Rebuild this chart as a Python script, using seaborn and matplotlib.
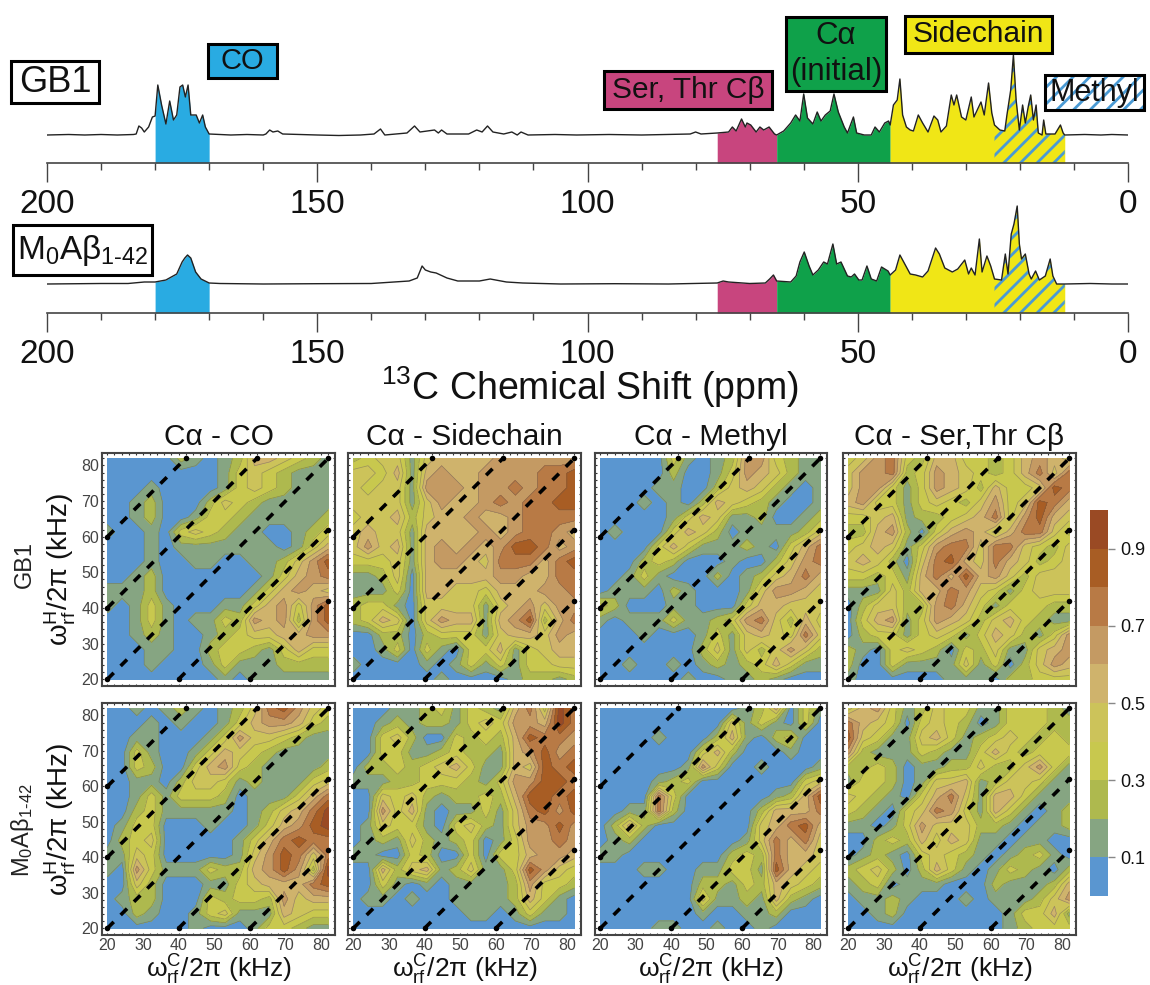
import numpy as np
import matplotlib
matplotlib.use('Agg')
import matplotlib.pyplot as plt
from matplotlib.colors import ListedColormap
from matplotlib.patches import Rectangle
import seaborn as sns

# 1D spectra as (ppm, height above baseline)
GB1_PEAKS = [(200,0),(196,.5),(193,0),(190,.5),(187,0),(184,.5),(183.5,1),(183,9),(182.5,7),(182,3),(181.2,8),(180.5,18),
    (180,19),(179.5,50),(178.8,30),(178,11),(177.3,34),(176.6,15),(176,20),(175.4,48),(174.9,50),(174.4,38),(173.9,50),
    (173.4,20),(172.4,20),(171.8,12),(171.2,20),(170.7,8),(170,1),(166,0),(163,.5),(160,0),(159.5,1),(158.8,5),(158.2,3),
    (157.3,4),(156.4,1),(150,0),(146,-.5),(142,0),(139.5,1),(138.3,6),(137.5,0),(133.4,2),(132,9),(131,3),(128.3,5),
    (127.6,2),(127,5),(126,1),(122,1),(120.5,5),(119.5,3),(118.5,9),(117.5,3),(115.5,1),(114,3),(113,0),(112.3,3),(111,0),
    (106,.5),(102,0),(96,.5),(90,0),(85,.5),(81,1),(80,3),(79,1),(76,2),(73.9,3),(73.2,8),(72.5,4),(71.5,16),(70.8,8),
    (70.5,12),(69.8,10),(68.8,3),(68.1,8),(67.4,5),(66.4,8),(65.4,1),(65,0),(63.7,4),(62.4,12),(61.5,20),(60.7,14),(60,41),
    (59.3,17),(58.3,11),(57.5,23),(56.8,14),(56,20),(55.1,24),(54.4,41),(53.6,23),(52.5,8),(51.9,2),(50.8,18),(50.2,2),
    (48.8,0),(47.5,0),(46.8,8),(46,3),(45,12),(44.3,14),(44,10),(43.4,30),(42.7,35),(42.2,56),(41.7,20),(41,8),(40.3,5),
    (39.7,4),(38.8,20),(38,12),(37,3),(35.9,19),(35.2,15),(34.6,3),(33.6,9),(32.7,40),(32.2,30),(31.7,40),(30.8,18),(30,15),
    (29,38),(28.5,18),(27.2,33),(26.6,20),(25.8,52),(25.2,22),(24.7,10),(23.7,5),(22.8,4),(22.4,20),(21.7,45),(21.2,80),
    (20.7,35),(20.1,5),(19.5,30),(19,12),(18.4,30),(18,40),(17.5,15),(17,30),(16.6,2),(15.9,0),(15.6,15),(15.2,1),(13.5,1),
    (12.5,10),(12,2),(11.7,0),(8,.5),(5,0),(3,.5),(0,0)]
AB_PEAKS = [(200,0),(194,.3),(190,.5),(185,.5),(182,2),(180,2),(178,4),(176,10),(175,22),(174.5,26),(174,29),(173.4,26),
    (172.5,12),(171.5,5),(170,1),(168,.5),(160,0),(150,.3),(140,.5),(133,3),(131.5,6),(130.6,18),(130,14),(129,12),(128,11),
    (126,6),(124,3),(120,3),(118,5),(115,2),(112,1),(105,0),(95,.3),(85,0),(76,1),(74.9,3),(73.9,2),(70,.5),(67.1,1),
    (66.3,5),(65.6,9),(65,3),(62.4,2),(61.4,8),(60.7,22),(59.9,32),(59,18),(58.3,9),(57.3,14),(56.3,22),(55.6,20),(54.6,40),
    (53.9,20),(53.1,22),(51.9,8),(51.2,7),(50.6,10),(49.8,4),(49.2,4),(48.3,18),(47.5,5),(46.5,3),(45.6,17),(44.4,13),
    (44,9),(43,14),(42.2,29),(41.4,21),(40.3,10),(39.3,9),(38,7),(37,13),(35.6,36),(34.9,30),(33.9,16),(32.5,12),(31.5,15),
    (30.2,24),(29.5,10),(29,16),(28.3,9),(27.5,45),(27,12),(26.1,28),(25.4,18),(24.7,5),(23.4,4),(22.7,30),(22.2,10),
    (21.6,50),(21.1,60),(20.5,78),(20.1,40),(19.7,25),(19,30),(18.3,10),(17.9,5),(17.1,13),(16.4,4),(15.3,8),(14.4,25),
    (13.9,8),(13.2,0),(11.7,0),(7,.5),(3,0),(0,0)]

# assigned regions (high ppm, low ppm, colour)
REGIONS = [(180, 170, '#29abe2'), (76, 65, '#c8457e'), (65, 44, '#0fa14a'), (44, 11.7, '#f0e616')]
METHYL = (24.7, 11.7)
HATCH_BLUE = '#4a9ad4'
PPM_MAJOR = [200, 150, 100, 50, 0]

# 2D maps: contour band digit per grid node, top row is 82 kHz, bottom row 20 kHz
FREQ = np.linspace(20, 82, 16)
GB1_CO = [
    [0,0,0,0,0,2,1,0,1,2,5,5,4,3,2,1],
    [0,0,0,0,0,0,0,0,1,3,4,3,2,1,1,1],
    [0,0,0,1,0,0,0,0,1,3,4,3,2,1,1,1],
    [0,0,1,2,0,0,0,2,4,3,2,1,1,1,1,1],
    [0,0,1,2,0,0,1,3,3,2,1,1,1,1,1,2],
    [1,0,0,1,0,3,4,3,2,1,1,0,0,1,2,3],
    [0,0,0,1,0,1,1,1,1,1,1,1,0,1,3,5],
    [0,0,0,1,0,0,1,1,0,0,1,1,2,4,6,8],
    [0,0,1,2,0,0,0,0,0,0,0,1,3,5,6,7],
    [1,1,1,2,0,0,0,0,0,0,1,3,5,6,5,4],
    [1,0,1,3,1,0,0,0,1,1,3,5,6,3,6,8],
    [0,0,1,3,1,0,1,1,3,2,6,5,6,2,6,8],
    [0,0,1,2,1,0,0,1,2,3,4,4,5,5,6,6],
    [0,0,0,1,1,0,0,2,3,3,2,1,3,5,3,3],
    [0,0,0,1,0,0,0,1,3,1,1,1,2,2,2,2],
    [0,0,0,0,0,0,0,0,1,0,1,1,1,1,1,1]]
GB1_SIDE = [
    [2,3,4,4,1,4,5,5,5,5,6,6,6,6,6,6],
    [4,4,3,5,1,5,6,5,5,6,6,6,6,7,7,8],
    [4,3,4,4,1,6,6,6,5,6,6,7,6,7,7,8],
    [4,4,4,4,1,4,6,5,5,6,7,6,7,7,8,8],
    [3,4,4,5,2,4,5,5,6,5,5,6,7,7,7,7],
    [4,5,4,4,1,5,5,5,5,6,5,6,7,7,6,5],
    [4,6,4,5,1,5,6,5,6,5,6,8,8,7,5,6],
    [3,3,3,4,1,5,6,6,5,4,7,7,7,5,7,8],
    [1,1,2,4,0,5,5,5,5,5,6,6,5,5,7,7],
    [1,1,1,3,0,5,5,4,4,3,5,5,5,6,6,7],
    [2,3,3,1,0,4,4,4,4,1,4,5,6,4,6,6],
    [2,3,5,4,0,4,6,5,5,1,5,6,8,2,5,7],
    [0,0,2,2,0,2,3,3,3,1,4,5,5,4,6,5],
    [0,0,1,3,0,3,1,0,3,3,5,1,3,4,5,5],
    [1,0,0,0,0,1,0,1,3,1,3,1,3,3,4,4],
    [0,0,0,0,0,0,1,0,0,0,0,1,2,2,1,2]]
GB1_METHYL = [
    [0,0,0,0,0,3,1,0,1,2,6,6,3,2,1,1],
    [0,0,0,0,0,2,0,0,1,3,6,5,4,2,1,1],
    [0,0,0,0,1,1,0,0,2,4,5,4,2,1,0,1],
    [0,0,0,1,0,1,0,2,5,4,3,2,1,0,0,1],
    [0,0,0,0,0,1,3,5,4,1,1,2,0,0,1,2],
    [0,1,0,0,0,3,5,4,2,0,1,1,1,1,2,4],
    [0,0,0,0,3,5,3,1,1,1,2,1,0,3,5,7],
    [0,0,0,2,3,2,0,0,0,1,0,0,2,4,6,7],
    [0,0,1,3,1,0,0,0,2,0,1,2,4,5,7,5],
    [0,1,1,1,0,2,1,0,0,0,1,4,6,6,5,4],
    [3,2,0,0,0,1,1,0,0,0,3,5,5,4,4,4],
    [1,0,1,1,1,3,1,1,2,3,6,7,4,2,5,3],
    [0,0,0,1,0,0,0,1,3,1,4,5,4,3,7,4],
    [0,0,0,0,0,0,0,2,4,1,4,2,4,6,4,2],
    [0,0,1,0,0,1,0,1,2,1,2,3,5,3,1,1],
    [0,0,0,0,0,0,1,0,0,1,1,2,1,0,0,0]]
GB1_SER = [
    [3,4,6,7,3,2,5,5,3,3,2,3,5,6,5,4],
    [4,6,6,7,2,3,6,5,4,3,2,3,5,7,4,7],
    [4,6,6,3,1,3,6,5,4,2,5,3,3,4,8,7],
    [5,6,3,3,1,3,4,3,2,4,6,3,4,8,7,5],
    [3,3,4,5,1,2,2,3,4,5,7,3,6,8,5,4],
    [2,2,5,6,2,0,3,5,6,5,3,5,7,7,4,2],
    [3,4,5,4,1,3,6,7,7,4,7,7,4,3,2,4],
    [4,5,4,2,0,4,7,8,5,4,7,5,4,2,3,4],
    [3,3,2,3,1,5,7,5,8,5,6,4,2,4,4,4],
    [1,1,1,4,2,5,5,7,6,4,3,1,3,4,4,4],
    [0,2,4,4,2,2,6,7,5,3,1,3,3,3,2,2],
    [0,3,5,6,1,3,6,5,4,2,4,5,3,2,1,1],
    [0,2,3,3,1,3,4,3,1,3,5,4,2,1,3,6],
    [2,1,0,3,4,3,2,0,3,2,4,1,1,4,5,6],
    [2,0,0,3,1,1,1,1,4,1,3,0,2,4,6,5],
    [1,0,0,0,0,0,0,1,1,1,0,2,2,3,3,3]]
AB_CO = [
    [0,0,1,0,1,2,1,0,1,2,4,7,8,6,4,3],
    [0,0,0,1,0,1,0,0,1,3,5,6,6,5,3,2],
    [0,0,1,1,0,0,0,1,3,6,4,4,3,2,1,1],
    [0,0,3,1,0,0,1,3,5,4,3,2,1,1,1,1],
    [0,0,3,2,0,0,3,5,6,3,2,1,1,1,1,2],
    [0,0,1,1,0,2,4,4,3,1,2,1,1,1,3,4],
    [0,0,1,3,1,3,3,3,2,0,1,1,1,3,5,7],
    [0,0,2,3,1,1,1,1,1,0,1,2,4,5,7,9],
    [0,1,3,3,0,0,0,1,0,0,1,3,5,6,8,9],
    [0,2,3,4,0,0,0,0,0,1,3,5,7,8,7,7],
    [1,1,4,3,0,0,0,0,0,1,4,6,8,7,4,7],
    [1,0,6,3,1,1,1,3,2,2,5,6,8,6,2,9],
    [0,0,4,2,0,0,0,1,1,3,4,5,5,5,7,8],
    [0,1,2,2,0,0,0,3,2,3,3,2,6,4,5,5],
    [0,0,2,1,0,0,1,3,4,1,1,1,5,4,3,3],
    [0,0,0,0,0,0,1,0,0,0,1,3,3,2,1,1]]
AB_SIDE = [
    [0,0,0,1,1,2,3,1,3,2,1,5,7,3,9,7],
    [0,0,1,2,1,2,2,1,3,4,3,6,6,5,9,7],
    [0,0,3,4,2,0,0,3,2,3,2,5,8,7,7,6],
    [0,0,3,3,1,1,2,3,2,2,1,5,6,8,6,7],
    [0,2,2,3,2,3,4,5,3,1,1,5,4,8,7,8],
    [1,1,1,2,2,3,3,3,2,1,3,6,6,8,8,7],
    [0,0,4,3,4,2,1,2,2,3,2,5,8,8,7,8],
    [0,0,6,3,5,1,0,1,1,3,1,4,7,8,6,8],
    [0,1,4,3,3,1,0,3,4,2,1,4,6,6,8,6],
    [0,1,2,1,4,2,1,2,3,0,1,3,6,6,7,6],
    [1,1,0,0,3,2,0,0,3,0,3,3,5,6,6,5],
    [0,0,5,2,4,5,1,2,4,1,1,3,8,6,4,3],
    [0,0,3,1,0,1,0,1,1,1,1,2,6,3,3,2],
    [0,1,1,0,1,0,0,1,1,1,1,2,5,3,1,0],
    [0,0,0,0,0,0,0,0,1,1,0,1,3,1,1,0],
    [0,0,0,0,0,0,0,0,0,0,0,0,0,0,0,0]]
AB_METHYL = [
    [0,0,0,0,0,0,0,0,0,0,1,2,5,0,3,1],
    [0,0,0,0,0,0,0,0,0,4,1,3,1,0,3,0],
    [0,0,0,0,1,0,0,0,2,5,1,0,2,3,0,0],
    [0,0,0,0,0,0,0,3,5,2,0,0,0,1,0,0],
    [0,0,0,0,0,0,1,6,3,0,0,1,0,0,0,1],
    [0,0,0,0,1,2,3,0,0,0,0,0,0,0,3,4],
    [0,0,0,0,7,3,0,0,0,0,0,0,1,2,5,8],
    [0,0,1,1,7,2,0,0,0,0,0,2,5,5,5,7],
    [0,2,5,2,0,0,0,0,0,0,0,4,5,7,8,5],
    [0,1,2,0,0,0,0,0,0,0,1,4,7,5,7,4],
    [1,1,0,0,0,0,0,0,0,2,3,2,7,5,5,4],
    [0,0,0,1,1,0,0,1,1,3,3,1,8,5,4,3],
    [0,0,0,0,0,0,0,2,2,1,3,2,5,4,3,2],
    [0,0,0,0,0,0,0,4,1,1,2,1,5,2,1,0],
    [0,0,0,0,0,0,0,1,0,0,1,1,2,0,0,0],
    [0,0,0,0,1,1,0,0,1,0,0,1,0,0,0,0]]
AB_SER = [
    [3,5,6,3,1,2,4,3,3,1,1,3,3,3,2,1],
    [7,5,4,3,0,3,4,3,2,0,1,3,3,3,2,2],
    [8,4,3,1,1,4,5,3,1,2,3,4,3,2,3,2],
    [6,2,1,1,1,3,2,1,1,3,5,3,2,3,3,3],
    [2,2,3,2,0,1,1,2,2,4,2,2,4,6,3,1],
    [1,3,3,2,0,1,4,4,5,1,2,4,4,3,1,1],
    [4,3,2,1,0,3,5,7,4,1,5,5,3,1,1,1],
    [3,2,1,0,3,4,7,6,3,1,5,3,1,0,1,2],
    [1,1,0,1,3,6,4,4,4,2,2,1,0,1,1,2],
    [0,0,2,3,2,5,3,5,4,1,1,0,1,1,0,0],
    [0,1,2,1,0,3,4,3,2,1,0,1,2,3,1,0],
    [2,3,4,2,0,2,5,3,1,0,1,3,2,1,0,2],
    [1,2,3,0,1,1,1,0,0,0,2,1,1,1,2,5],
    [0,1,1,2,1,0,0,0,1,0,1,1,1,2,4,6],
    [0,0,1,2,0,0,0,0,0,0,0,1,3,3,5,1],
    [0,0,0,0,0,0,0,0,0,0,0,1,2,3,3,3]]

MAPS = [[GB1_CO, GB1_SIDE, GB1_METHYL, GB1_SER], [AB_CO, AB_SIDE, AB_METHYL, AB_SER]]
TITLES = ['C\u03b1 - CO', 'C\u03b1 - Sidechain', 'C\u03b1 - Methyl', 'C\u03b1 - Ser,Thr C\u03b2']
DIAG_OFFSETS = [40, 20, 0, -20, -40]
LEVELS = [0, .1, .2, .3, .4, .5, .6, .7, .8, .9, 1]
BAND_COLORS = ['#5a96d0', '#86a582', '#aeb94e', '#c8c84e', '#ccc35a', '#cfb36c', '#c49a63', '#b87a45', '#a85d24', '#9a4a24']
BAR_VALUES = [.95, .85, .75, .65, .55, .45, .35, .25, .15, .05]
BAR_TICKS = [.9, .7, .5, .3, .1]

sns.set_style('white')
plt.rcParams['font.family'] = ['Liberation Sans', 'DejaVu Sans']
plt.rcParams['mathtext.fontset'] = 'custom'
plt.rcParams['mathtext.rm'] = 'Liberation Sans'
plt.rcParams['mathtext.it'] = 'Liberation Sans:italic'
plt.rcParams['hatch.linewidth'] = 2

W, H = 1150, 985
AB_LABEL = 'M$_{0}$A\u03b2$_{\\mathrm{1\\text{-}42}}$'
fig = plt.figure(figsize=(W / 100, H / 100), dpi=100)


def add_px_axes(x0, y0, x1, y1):
    # pixel box measured from the top left of the picture
    return fig.add_axes([x0 / W, 1 - y1 / H, (x1 - x0) / W, (y1 - y0) / H])


def draw_spectrum(peaks, y_axis, y_base, y_top):
    ax = add_px_axes(47, y_top, 1128, y_axis)
    ax.patch.set_alpha(0)
    ppm = np.array([p[0] for p in peaks], dtype=float)
    height = np.array([p[1] for p in peaks], dtype=float)
    floor = -(y_axis - y_base)
    for hi, lo, col in REGIONS:
        ax.fill_between(ppm, floor, height, where=(ppm <= hi) & (ppm >= lo), color=col, lw=0)
    ax.fill_between(ppm, floor, height, where=(ppm <= METHYL[0]) & (ppm >= METHYL[1]),
                    facecolor=REGIONS[3][2], edgecolor=HATCH_BLUE, hatch='//', lw=0)
    sns.lineplot(x=ppm, y=height, ax=ax, color='#222222', lw=1, estimator=None, sort=False)
    ax.set_xlim(200, 0)
    ax.set_ylim(floor, y_axis - y_top + floor)
    ax.set_xlabel('')
    ax.set_ylabel('')
    ax.set_yticks([])
    ax.set_xticks(PPM_MAJOR)
    ax.set_xticks(np.arange(0, 201, 10), minor=True)
    ax.tick_params(axis='x', which='major', bottom=True, length=13.5, width=1, color='#444444',
                   labelsize=24, pad=5, labelcolor='#111111')
    ax.tick_params(axis='x', which='minor', bottom=True, length=5, width=1, color='#444444')
    sns.despine(ax=ax, left=True)
    ax.spines['bottom'].set_color('#444444')
    ax.spines['bottom'].set_linewidth(1.2)
    return ax


draw_spectrum(GB1_PEAKS, 163, 135, 40)
draw_spectrum(AB_PEAKS, 313, 284, 190)

# 2D panels
PANEL_X = [(102, 335), (348, 581), (595, 827), (843, 1076)]
PANEL_Y = [(453, 686), (703, 935)]
for r, (y0, y1) in enumerate(PANEL_Y):
    for c, (x0, x1) in enumerate(PANEL_X):
        ax = add_px_axes(x0, y0, x1, y1)
        z = (np.flipud(np.array(MAPS[r][c], dtype=float)) + 0.5) / 10
        ax.contourf(FREQ, FREQ, z, levels=LEVELS, colors=BAND_COLORS)
        ax.contour(FREQ, FREQ, z, levels=LEVELS[1:-1], colors='#555555', linewidths=0.5, alpha=0.45)
        for off in DIAG_OFFSETS:
            xs = np.array([max(20, 20 - off), min(82, 82 - off)])
            sns.lineplot(x=xs, y=xs + off, ax=ax, color='black', lw=2.6, linestyle=(0, (2.5, 2.7)),
                         estimator=None, sort=False)
            ax.scatter(xs, xs + off, s=16, color='black', zorder=5, lw=0)
        ax.set_xlim(18.5, 83.9)
        ax.set_ylim(18.1, 83.5)
        ax.set_xlabel('')
        ax.set_ylabel('')
        ax.set_xticks(np.arange(20, 81, 10))
        ax.set_yticks(np.arange(20, 81, 10))
        ax.set_xticks(np.arange(20, 83, 2), minor=True)
        ax.set_yticks(np.arange(20, 83, 2), minor=True)
        ax.tick_params(which='both', direction='in', length=1.5, width=0.8, color='#333333',
                       bottom=True, top=True, left=True, right=True,
                       labelbottom=r == 1, labelleft=c == 0, labelsize=11.5, labelcolor='#444444', pad=2)
        for s in ax.spines.values():
            s.set_color('#444444')
            s.set_linewidth(1.5)
        if r == 0:
            ax.set_title(TITLES[c], fontsize=21.5, pad=6, color='#111111')
        else:
            ax.set_xlabel('\u03c9$_{\\mathrm{rf}}^{\\mathrm{C}}$/2\u03c0 (kHz)', fontsize=19, labelpad=0, color='#111111')
        if c == 0:
            ax.set_ylabel('\u03c9$_{\\mathrm{rf}}^{\\mathrm{H}}$/2\u03c0 (kHz)', fontsize=20, color='#111111')
            ax.yaxis.set_label_coords(-0.103, 0.5)

# colour bar
cax = add_px_axes(1090, 510, 1108, 896)
sns.heatmap(np.array(BAR_VALUES).reshape(-1, 1), ax=cax, cmap=ListedColormap(BAND_COLORS), vmin=0, vmax=1, cbar=False)
cax.set_xticks([])
cax.yaxis.tick_right()
cax.set_yticks([(1 - t) * 10 for t in BAR_TICKS])
cax.set_yticklabels([str(t) for t in BAR_TICKS], rotation=0)
cax.tick_params(axis='y', right=True, left=False, length=5, width=1, color='#888888', labelsize=13, pad=4, labelcolor='#111111')

# boxes and free labels, in picture pixels
over = fig.add_axes([0, 0, 1, 1], zorder=10)
over.set_xlim(0, W)
over.set_ylim(H, 0)
over.axis('off')


def label_box(x0, y0, x1, y1, text, face, size, hatch=None):
    kw = dict(edgecolor=HATCH_BLUE, hatch=hatch, lw=0) if hatch else dict(lw=0)
    over.add_patch(Rectangle((x0, y0), x1 - x0, y1 - y0, facecolor=face, **kw))
    over.add_patch(Rectangle((x0, y0), x1 - x0, y1 - y0, fill=False, edgecolor='black', lw=2.2))
    over.text((x0 + x1) / 2, (y0 + y1) / 2, text, ha='center', va='center', fontsize=size,
              color='#111111', linespacing=1.3)


label_box(11, 61, 99, 103, 'GB1', 'white', 26)
label_box(13, 225, 152, 275, AB_LABEL, 'white', 24)
label_box(208, 44, 277, 78, 'CO', '#29abe2', 21)
label_box(604, 71, 772, 109, 'Ser, Thr C\u03b2', '#c8457e', 21.5)
label_box(786, 17, 886, 91, 'C\u03b1\n(initial)', '#0fa14a', 22.5)
label_box(905, 16, 1052, 53, 'Sidechain', '#f0e616', 21.5)
label_box(1045, 75, 1144, 110, 'Methyl', 'white', 22, hatch='//')
over.text(590, 387, '$^{13}$C Chemical Shift (ppm)', ha='center', va='center', fontsize=27, color='#111111')
over.text(25, 565, 'GB1', rotation=90, ha='center', va='center', fontsize=17, color='#222222')
over.text(23, 830, AB_LABEL, rotation=90, ha='center', va='center', fontsize=17, color='#222222')

fig.savefig('out.png', dpi=100)
